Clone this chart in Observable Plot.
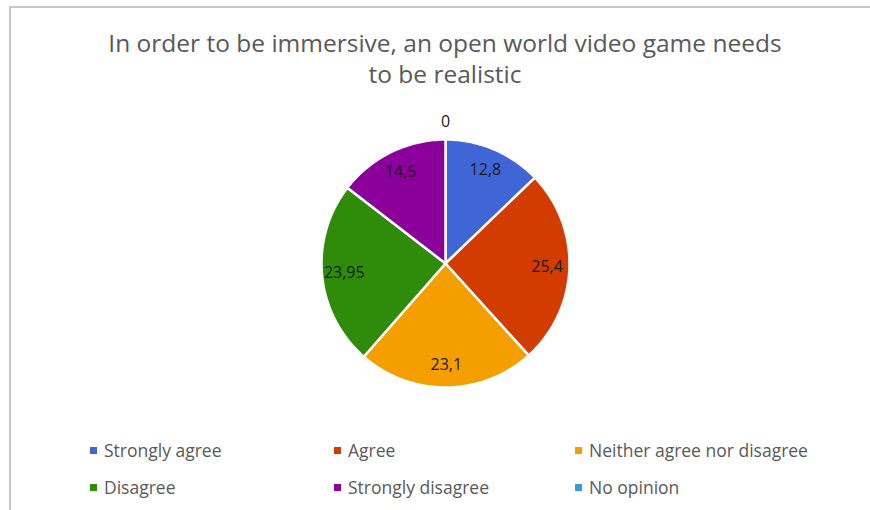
<!DOCTYPE html>
<html>
<head>
<meta charset="utf-8">
<script src="https://cdn.jsdelivr.net/npm/d3@7"></script>
<script src="https://cdn.jsdelivr.net/npm/@observablehq/plot@0.6"></script>
<style>
  html, body { margin: 0; padding: 0; background: #fff; }
  #wrap { position: relative; width: 870px; height: 510px; overflow: hidden; font-family: "Open Sans", sans-serif; }
  #frame { position: absolute; left: 9px; top: 6px; width: 870px; height: 520px; border-left: 2px solid #c6c6c6; border-top: 2px solid #c6c6c6; box-sizing: border-box; }
  #title { position: absolute; left: 0; width: 890px; top: 27px; text-align: center; color: #595959; font-size: 24.5px; line-height: 31px; }
  #chart { position: absolute; left: 0; top: 0; }
  .leg { position: absolute; color: #595959; font-size: 17.5px; line-height: 22px; white-space: nowrap; }
  .leg i { display: inline-block; width: 7px; height: 7px; margin-right: 7px; vertical-align: 3px; }
</style>
</head>
<body>
<div id="wrap">
  <div id="frame"></div>
  <div id="chart"></div>
  <div id="title">In order to be immersive, an open world video game needs<br>to be realistic</div>
  <div id="legend"></div>
</div>
<script>
const categories = ["Strongly agree", "Agree", "Neither agree nor disagree", "Disagree", "Strongly disagree", "No opinion"];
const values = [12.8, 25.4, 23.1, 23.95, 14.5, 0];
const labels = ["12,8", "25,4", "23,1", "23,95", "14,5", "0"];
const colors = ["#4066d6", "#d33c00", "#f59e00", "#2f8c0b", "#8b009b", "#2f9fd6"];

const pie = d3.pie().sort(null).value(d => d)(values);

// polygon points for each slice (center -> arc -> center), in unit coordinates
const slices = pie.map((p, i) => {
  const pts = [{x: 0, y: 0, k: i}];
  const n = Math.max(2, Math.ceil((p.endAngle - p.startAngle) / 0.02));
  for (let j = 0; j <= n; j++) {
    const a = p.startAngle + (p.endAngle - p.startAngle) * j / n;
    pts.push({x: Math.sin(a), y: Math.cos(a), k: i});
  }
  pts.push({x: 0, y: 0, k: i});
  return pts;
});

const labelData = pie.map((p, i) => {
  const a = (p.startAngle + p.endAngle) / 2;
  const r = values[i] === 0 ? 1.14 : 0.82;
  return {x: r * Math.sin(a), y: r * Math.cos(a), label: labels[i]};
});

const marks = slices.filter((s, i) => values[i] > 0).map((s) => Plot.line(s, {
  x: "x", y: "y", fill: colors[s[0].k], stroke: "white", strokeWidth: 2.5, curve: "linear"
}));
marks.push(Plot.text(labelData, {x: "x", y: "y", text: "label", fill: "#1a1a1a", fontSize: 16, fontFamily: "Open Sans, sans-serif"}));

const plot = Plot.plot({
  width: 870,
  height: 510,
  margin: 0,
  x: {domain: [-1, 1], range: [321, 569], axis: null},
  y: {domain: [-1, 1], range: [387, 139], axis: null},
  marks
});
document.getElementById("chart").appendChild(plot);

// legend
const legPos = [[90, 439], [334, 439], [575, 439], [90, 476], [334, 476], [575, 476]];
const legend = document.getElementById("legend");
categories.forEach((c, i) => {
  const d = document.createElement("div");
  d.className = "leg";
  d.style.left = legPos[i][0] + "px";
  d.style.top = legPos[i][1] + "px";
  d.innerHTML = `<i style="background:${colors[i]}"></i>${c}`;
  legend.appendChild(d);
});
</script>
</body>
</html>
